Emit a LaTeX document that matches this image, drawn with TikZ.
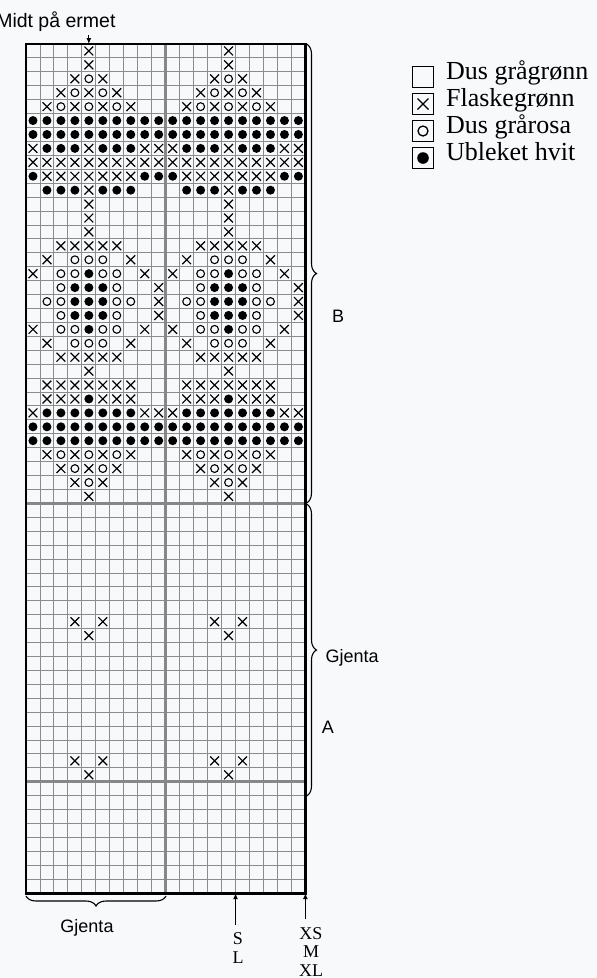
\documentclass[tikz,border=0pt]{standalone}
\usepackage{fontspec}
\setmainfont{Liberation Serif}
\setsansfont{Liberation Sans}
\usetikzlibrary{positioning,decorations.pathreplacing,arrows.meta}

\definecolor{paper}{RGB}{248,249,251}
\definecolor{gridgray}{RGB}{140,140,140}
\definecolor{divgray}{RGB}{135,135,135}

\tikzset{
  gridline/.style={gridgray,line width=0.9pt},
  divline/.style={divgray,line width=2.6pt},
  border/.style={black,line width=2.8pt},
  stx/.style={line width=1.2pt},
  sto/.style={line width=1.1pt},
  curly/.style={decorate,decoration={brace,amplitude=10pt},line width=1.1pt},
  ptr/.style={-{Latex[length=6pt,width=5pt]},line width=1.2pt},
  labelsf/.style={font=\sffamily\fontsize{18}{20}\selectfont},
  labelrm/.style={font=\fontsize{18}{18.5}\selectfont,align=center,inner sep=1pt},
  legbox/.style={draw,line width=0.9pt,minimum size=21pt,inner sep=0pt},
  legtxt/.style={font=\fontsize{26}{28}\selectfont,inner sep=0pt,text height=0.68em,text depth=0.22em},
}

% one half of the sleeve pattern (10 columns)
\newcommand{\motif}{%
  \foreach \r/\cs in {1/{5},2/{5},3/{4,6},4/{3,5,7},5/{2,4,6,8},8/{1,5,9,10},
      9/{1,...,10},10/{2,...,8},11/{5},12/{5},13/{5},14/{5},15/{3,...,7},
      16/{2,8},17/{1,9},18/{10},19/{10},20/{10},21/{1,9},22/{2,8},23/{3,...,7},
      24/{5},25/{2,...,8},26/{2,3,4,6,7,8},27/{1,9,10},30/{2,4,6,8},31/{3,5,7},
      32/{4,6},33/{5},42/{4,6},43/{5},52/{4,6},53/{5}}
    {\foreach \c in \cs
      {\draw[stx] (\c-.5,\r-.5) +(-4.4pt,-4.4pt) -- +(4.4pt,4.4pt) +(-4.4pt,4.4pt) -- +(4.4pt,-4.4pt);}}
  \foreach \r/\cs in {3/{5},4/{4,6},5/{3,5,7},16/{4,5,6},17/{3,4,6,7},18/{3,7},
      19/{2,3,7,8},20/{3,7},21/{3,4,6,7},22/{4,5,6},30/{3,5,7},31/{4,6},32/{5}}
    {\foreach \c in \cs {\draw[sto] (\c-.5,\r-.5) circle[radius=3.9pt];}}
  \foreach \r/\cs in {6/{1,...,10},7/{1,...,10},8/{2,3,4,6,7,8},10/{1,9,10},
      11/{2,3,4,6,7,8},17/{5},18/{4,5,6},19/{4,5,6},20/{4,5,6},21/{5},26/{5},
      27/{2,...,8},28/{1,...,10},29/{1,...,10}}
    {\foreach \c in \cs {\fill (\c-.5,\r-.5) circle[radius=4.5pt];}}%
}

\begin{document}
\begin{tikzpicture}[x=1pt,y=-1pt]
\fill[paper] (0,0) rectangle (597,978);
\useasboundingbox (0,0) rectangle (597,978);

% chart
\begin{scope}[shift={(26,44)},x=13.97pt,y=-13.92pt]
\foreach \i in {0,...,20} \draw[gridline] (\i,0) -- (\i,61);
\foreach \j in {0,...,61} \draw[gridline] (0,\j) -- (20,\j);
\draw[divline] (10,0) -- (10,61);
\draw[divline] (0,33) -- (20,33);
\draw[divline] (0,53) -- (20,53);
\draw[border] (0,0) rectangle (20,61);
\begin{scope}
\motif
\end{scope}
\begin{scope}[shift={(10,0)}]
\motif
\end{scope}
\coordinate (midtpt) at (4.5,0);
\coordinate (slpt) at (15,61);
\coordinate (xspt) at (20,61);
\end{scope}

% braces
\draw[curly] (306.5,44) -- (306.5,503);
\draw[curly] (306.5,504) -- (306.5,796);
\draw[curly] (166,896) -- (26,896);

% labels
\node[labelsf,font=\sffamily\fontsize{19.5}{21}\selectfont,anchor=east] (midt) at (119,22) {Midt på ermet};
\draw[ptr] (midt.south -| midtpt) -- (midtpt);
\node[labelsf] (bname) at (338,316) {B};
\node[labelsf,anchor=west] (gjentaA) at (322,658) {Gjenta};
\node[labelsf] (aname) at (328,727) {A};
\node[labelsf] (gjentaB) at (87,928) {Gjenta};
\node[labelrm] (sl) at (238,948) {S\\L};
\node[labelrm] (xsml) at (311,952) {XS\\M\\XL};
\draw[ptr] ([yshift=7pt]sl.north -| slpt) -- (slpt);
\draw[ptr] ([yshift=7pt]xsml.north -| xspt) -- (xspt);

% legend
\node[legbox] (legA) at (423,77) {};
\node[legbox] (legB) at (423,104) {};
\node[legbox] (legC) at (423,131) {};
\node[legbox] (legD) at (423,158) {};
\draw[stx] (legB.center) +(-5.5pt,-5.5pt) -- +(5.5pt,5.5pt) +(-5.5pt,5.5pt) -- +(5.5pt,-5.5pt);
\draw[line width=1.3pt] (legC.center) circle[radius=5pt];
\fill (legD.center) circle[radius=5.8pt];
\node[legtxt,right=12pt of legA] (txtA) {Dus grågrønn};
\node[legtxt,right=12pt of legB] (txtB) {Flaskegrønn};
\node[legtxt,right=12pt of legC] (txtC) {Dus grårosa};
\node[legtxt,right=12pt of legD] (txtD) {Ubleket hvit};
\end{tikzpicture}
\end{document}
